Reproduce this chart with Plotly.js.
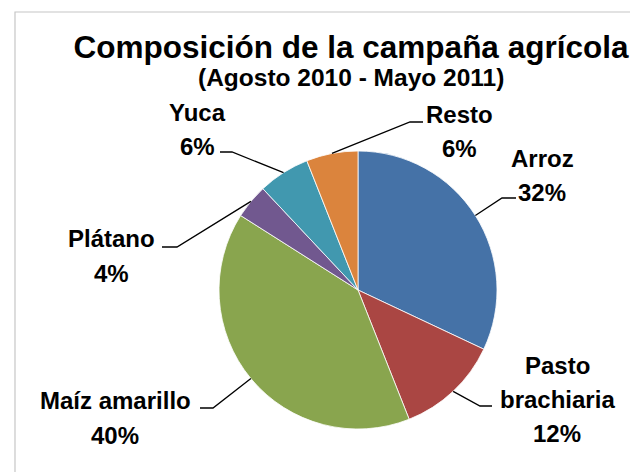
<!DOCTYPE html>
<html>
<head>
<meta charset="utf-8">
<script src="https://cdn.plot.ly/plotly-3.0.1.min.js"></script>
<style>html,body{margin:0;padding:0;background:#fff;}#chart{width:630px;height:472px;}</style>
</head>
<body>
<div id="chart"></div>
<script>
// ---- data ----
var categories = ["Arroz", "Pasto brachiaria", "Maíz amarillo", "Plátano", "Yuca", "Resto"];
var labelLines = [["Arroz"], ["Pasto", "brachiaria"], ["Maíz amarillo"], ["Plátano"], ["Yuca"], ["Resto"]];
var values = [32, 12, 40, 4, 6, 6];
var colors = ["#4572A7", "#AA4643", "#89A54E", "#71588F", "#4198AF", "#DB843D"];
var titleText = "Composición de la campaña agrícola";
var subtitleText = "(Agosto 2010 - Mayo 2011)";

// ---- layout geometry (pixels) ----
var W = 630, H = 472;
var CX = 358, CY = 290, R = 139;
// label placement: center x, first-line y, line step, leader elbow x, leader end x, leader y
var labelPos = [
  {x: 542, y: 158, step: 34, ex: 502, lx: 516, ly: 198},
  {x: 557, y: 365, step: 34, ex: 480, lx: 492, ly: 406},
  {x: 115, y: 400, step: 35, ex: 213, lx: 200, ly: 408},
  {x: 111, y: 238, step: 35, ex: 177, lx: 162, ly: 247},
  {x: 197, y: 112, step: 34, ex: 232, lx: 220, ly: 152},
  {x: 459, y: 114, step: 35, ex: 410, lx: 423, ly: 122}
];

function px(x) { return x / W; }
function py(y) { return 1 - y / H; }

var total = values.reduce(function (a, b) { return a + b; }, 0);

var trace = {
  type: "pie",
  labels: categories,
  values: values,
  sort: false,
  direction: "clockwise",
  rotation: 0,
  marker: {colors: colors, line: {color: "#ffffff", width: 0.8}},
  textinfo: "none",
  hoverinfo: "skip",
  showlegend: false,
  domain: {x: [px(CX - R), px(CX + R)], y: [py(CY + R), py(CY - R)]}
};

var annotations = [];
var shapes = [];
var font = {family: "Liberation Sans, Arial, sans-serif", size: 24, color: "#000000"};

var cum = 0;
values.forEach(function (v, i) {
  var mid = (cum + v / 2) / total * 2 * Math.PI;
  cum += v;
  var sx = CX + R * Math.sin(mid);
  var sy = CY - R * Math.cos(mid);
  var p = labelPos[i];
  var lines = labelLines[i].concat([Math.round(v / total * 100) + "%"]);
  lines.forEach(function (t, k) {
    annotations.push({
      text: "<b>" + t + "</b>", xref: "paper", yref: "paper",
      x: px(p.x), y: py(p.y + k * p.step), xanchor: "center", yanchor: "middle",
      showarrow: false, font: font
    });
  });
  shapes.push({
    type: "path", xref: "paper", yref: "paper",
    path: "M" + px(sx) + "," + py(sy) + " L" + px(p.ex) + "," + py(p.ly) + " L" + px(p.lx) + "," + py(p.ly),
    line: {color: "#000000", width: 1.3}
  });
});

// chart frame
shapes.push({
  type: "rect", xref: "paper", yref: "paper",
  x0: px(15), x1: px(W + 5), y0: py(H + 5), y1: py(12),
  line: {color: "#C6C6C6", width: 1.2}, fillcolor: "rgba(0,0,0,0)", layer: "below"
});

annotations.push({
  text: "<b>" + subtitleText + "</b>", xref: "paper", yref: "paper",
  x: px(351), y: py(77), xanchor: "center", yanchor: "middle", showarrow: false,
  font: {family: "Liberation Sans, Arial, sans-serif", size: 24.5, color: "#000000"}
});

var layout = {
  width: W, height: H,
  margin: {l: 0, r: 0, t: 0, b: 0},
  paper_bgcolor: "#ffffff",
  title: {
    text: "<b>" + titleText + "</b>",
    x: px(351), xanchor: "center", xref: "paper",
    y: py(47), yanchor: "middle", yref: "paper",
    font: {family: "Liberation Sans, Arial, sans-serif", size: 31.5, color: "#000000"}
  },
  annotations: annotations,
  shapes: shapes,
  showlegend: false
};

Plotly.newPlot("chart", [trace], layout, {displayModeBar: false, staticPlot: true});
</script>
</body>
</html>
